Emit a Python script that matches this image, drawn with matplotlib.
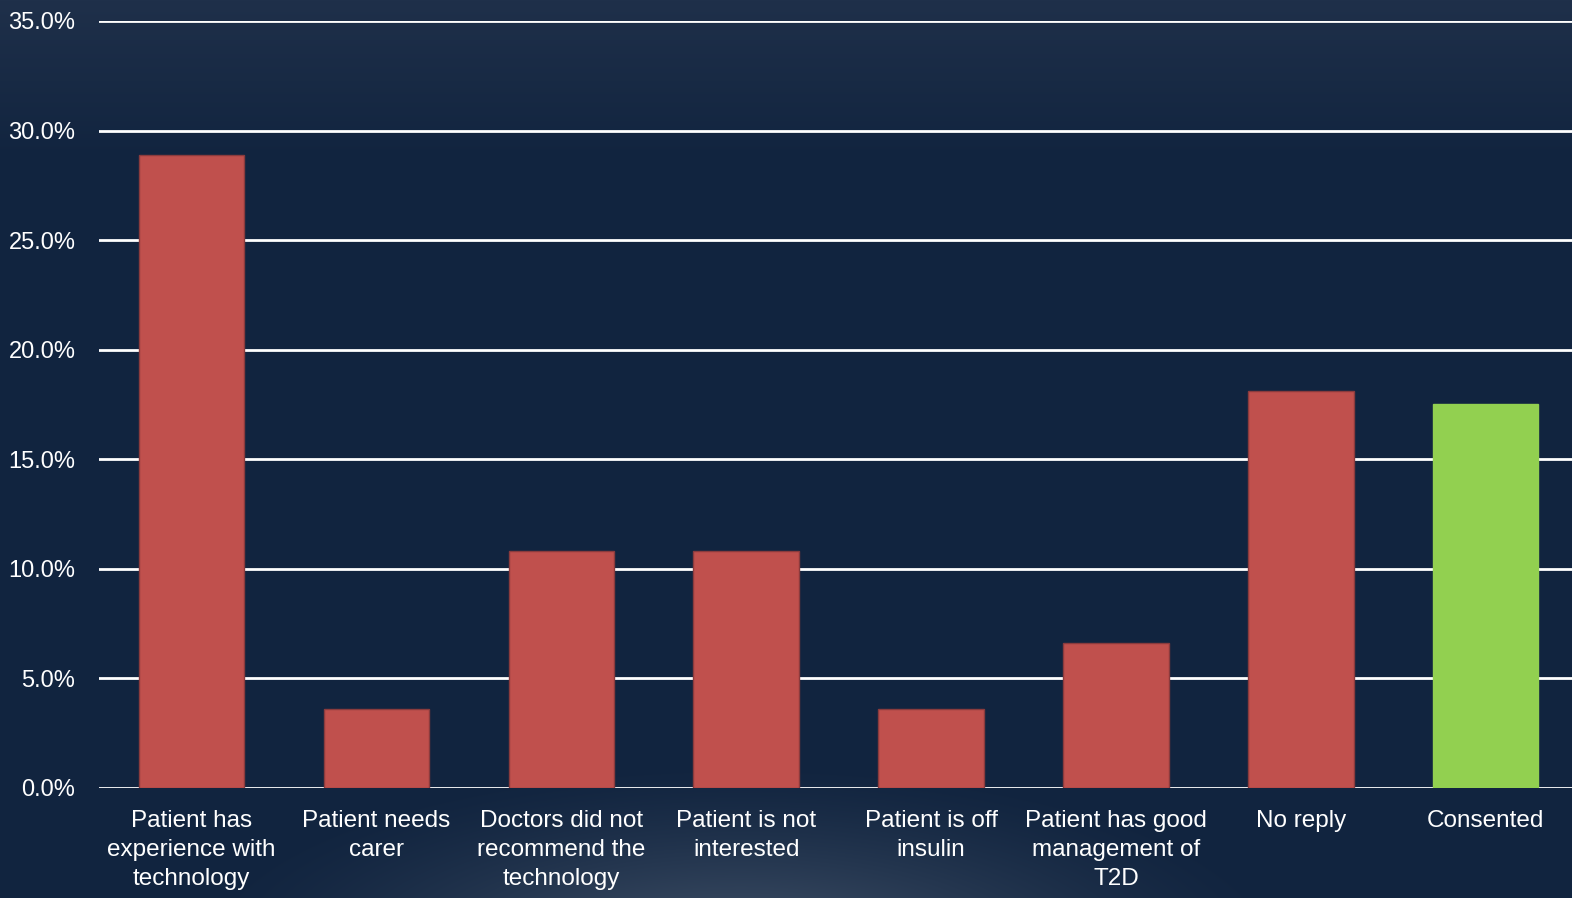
import numpy as np
import matplotlib
matplotlib.use('Agg')
import matplotlib.pyplot as plt
from matplotlib.ticker import PercentFormatter

categories = [
  'Patient has\nexperience with\ntechnology',
  'Patient needs\ncarer',
  'Doctors did not\nrecommend the\ntechnology',
  'Patient is not\ninterested',
  'Patient is off\ninsulin',
  'Patient has good\nmanagement of\nT2D',
  'No reply',
  'Consented',
]
values = [28.9, 3.6, 10.8, 10.8, 3.6, 6.6, 18.1, 17.5]
bar_colors = ['#C0504D'] * 7 + ['#92D050']
edge_colors = ['#8a3b3d'] * 7 + ['#92D050']

plt.rcParams['font.family'] = ['Liberation Sans Narrow', 'Liberation Sans', 'DejaVu Sans']

W, H = 1572, 898
fig = plt.figure(figsize=(W / 100, H / 100), dpi=100)

# background: vertical gradient plus a soft glow at the bottom centre
yy, xx = np.mgrid[0:H, 0:W]
top = np.array([0x1f, 0x30, 0x4a]) / 255
mid = np.array([0x11, 0x24, 0x3f]) / 255
t = np.clip(yy / 160.0, 0, 1)[..., None]
bg = top * (1 - t) + mid * t
glow_col = np.array([0x44, 0x54, 0x6a]) / 255
d = np.sqrt(((xx - 740) / 560.0) ** 2 + ((yy - 950) / 190.0) ** 2)
g = np.clip(1 - d, 0, 1)[..., None] ** 1.4
bg = bg * (1 - g) + glow_col * g

bax = fig.add_axes([0, 0, 1, 1], zorder=-1)
bax.imshow(bg, aspect='auto', extent=[0, 1, 0, 1], origin='upper')
bax.axis('off')

step = 184.9
left = 99 / W
width = 8 * step / W
ax = fig.add_axes([left, 1 - 788 / H, width, (788 - 21) / H])
ax.patch.set_alpha(0)

x = np.arange(len(categories))
ax.bar(x, values, width=0.57, color=bar_colors, edgecolor=edge_colors, linewidth=1, zorder=3)

ax.set_xlim(-0.5, len(categories) - 0.5)
ax.set_ylim(0, 35)
ax.set_yticks(np.arange(0, 36, 5))
ax.yaxis.set_major_formatter(PercentFormatter(decimals=1))
ax.grid(axis='y', color='white', linewidth=2, zorder=1)
ax.set_axisbelow(True)

for s in ax.spines.values():
  s.set_visible(False)

ax.set_xticks(x)
ax.set_xticklabels(categories, color='white', fontsize=17.5, linespacing=1.4)
ax.tick_params(axis='x', length=0, pad=16)
ax.tick_params(axis='y', length=0, pad=17, labelcolor='white', labelsize=17)

fig.savefig('out.png', dpi=100)
